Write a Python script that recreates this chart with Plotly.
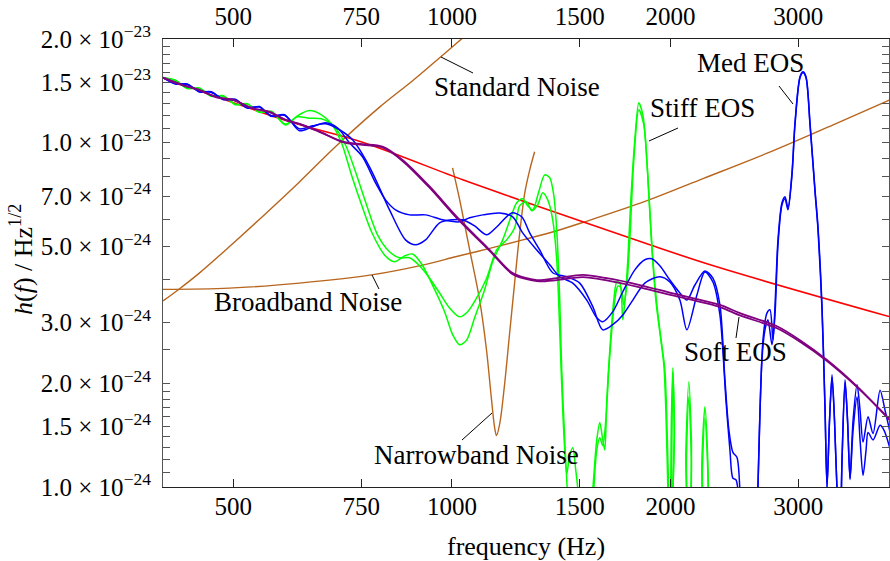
import math
import plotly.graph_objects as go

# ---------------- data (frequency in Hz, strain in 1/sqrt(Hz)) ----------------
red_f = [400, 597, 753, 1035, 1240, 1873, 2340, 4014]
red_h = [1.544e-23, 1.152e-23, 1.003e-23, 7.80e-24, 6.82e-24, 5.05e-24, 4.33e-24, 3.12e-24]

soft_f = [400, 425.2, 448.8, 473.7, 500, 529.4, 560.5, 591.6, 622.4, 663.3, 706.7, 753.1, 802.5,
          855.1, 931.6, 1015, 1127.2, 1212.6, 1308.6, 1394.4, 1514.4, 1634.3, 1814.9, 2015.4,
          2339.7, 2493.1, 2803.9, 3016.2, 3286.2, 3614.6, 4013.8]
soft1_h = [1.544e-23, 1.468e-23, 1.424e-23, 1.354e-23, 1.332e-23, 1.259e-23, 1.229e-23, 1.161e-23,
           1.127e-23, 1.065e-23, 1.0075e-23, 9.90e-24, 9.74e-24, 8.91e-24, 7.46e-24, 6.10e-24,
           4.88e-24, 4.18e-24, 3.99e-24, 4.04e-24, 4.13e-24, 4.04e-24, 3.86e-24, 3.65e-24,
           3.38e-24, 3.20e-24, 2.93e-24, 2.67e-24, 2.34e-24, 1.96e-24, 1.56e-24]
soft2_h = [1.544e-23, 1.472e-23, 1.421e-23, 1.357e-23, 1.329e-23, 1.262e-23, 1.226e-23, 1.164e-23,
           1.124e-23, 1.068e-23, 1.004e-23, 9.85e-24, 9.68e-24, 8.85e-24, 7.40e-24, 6.05e-24,
           4.85e-24, 4.15e-24, 3.96e-24, 3.99e-24, 4.07e-24, 3.98e-24, 3.80e-24, 3.60e-24,
           3.33e-24, 3.15e-24, 2.89e-24, 2.64e-24, 2.32e-24, 1.95e-24, 1.57e-24]

stiff1_f = [400, 415.8, 432.0, 448.8, 466.3, 484.4, 503.1, 522.7, 543.0, 564.1, 589.8, 612.6, 636.4,
            661.2, 682.5, 704.5, 727.2, 750.8, 774.9, 807.6, 833.6, 860.5, 882.7, 908.2, 937.5,
            977.1, 1002.2, 1024.7, 1047.7, 1074.7, 1109.4, 1138.0, 1174.7, 1208.8, 1228.1, 1251.7,
            1271.7, 1292.1, 1316.9, 1342.3, 1363.8, 1381.2, 1394.4, 1407.7, 1416.7, 1430.3, 1439.4,
            1453.2, 1524.0, 1563.2, 1583.2, 1598.4, 1613.7, 1624.0, 1634.3, 1650.0, 1671.1, 1687.1,
            1703.2, 1719.5, 1736.0, 1747.1, 1763.8, 1786.3, 1809.1, 1832.2, 1849.8, 1867.5, 1885.3,
            1909.5, 1933.9, 1958.6, 1971.0, 1983.7, 1996.3, 2005.8, 2015.4, 2025.0, 2034.6, 2087.0,
            2100.3, 2120.4, 2137.3, 2154.4, 2195.8, 2209.8, 2230.9, 2248.7, 2266.6]
stiff1_h = [1.544e-23, 1.520e-23, 1.436e-23, 1.442e-23, 1.363e-23, 1.369e-23, 1.289e-23, 1.298e-23,
            1.224e-23, 1.233e-23, 1.125e-23, 1.197e-23, 1.240e-23, 1.205e-23, 1.135e-23, 9.99e-24,
            8.06e-24, 6.60e-24, 5.51e-24, 4.72e-24, 4.51e-24, 4.69e-24, 4.75e-24, 4.45e-24, 3.91e-24,
            3.23e-24, 2.77e-24, 2.59e-24, 2.67e-24, 3.10e-24, 3.74e-24, 4.51e-24, 5.22e-24, 6.17e-24,
            6.69e-24, 6.87e-24, 6.56e-24, 6.38e-24, 7.19e-24, 8.06e-24, 7.91e-24, 7.05e-24, 5.58e-24,
            3.49e-24, 2.19e-24, 1.37e-24, 1.05e-24, 7.5e-25, 5e-25, 9.8e-25, 1.37e-24, 1.54e-24,
            1.37e-24, 1.28e-24, 1.79e-24, 2.50e-24, 3.49e-24, 3.94e-24, 3.92e-24, 3.06e-24, 3.74e-24,
            4.57e-24, 6.82e-24, 1.019e-23, 1.305e-23, 1.205e-23, 9.86e-24, 7.05e-24, 4.98e-24,
            3.49e-24, 2.81e-24, 2.26e-24, 1.67e-24, 9.8e-25, 5e-25, 1.56e-24, 2.22e-24, 1.56e-24,
            5e-25, 5e-25, 1.28e-24, 2.02e-24, 1.37e-24, 5e-25, 5e-25, 1.20e-24, 1.71e-24, 1.28e-24,
            5e-25]

stiff2_f = [400, 415.8, 432.0, 448.8, 466.3, 484.4, 503.1, 522.7, 543.0, 564.1, 589.8, 612.6, 636.4,
            661.2, 689.0, 713.5, 736.5, 762.7, 789.9, 820.5, 846.9, 874.3, 902.5, 931.6, 961.7,
            992.7, 1024.7, 1051.1, 1081.5, 1116.5, 1152.5, 1189.7, 1220.3, 1239.8, 1267.7, 1288.0,
            1312.7, 1333.8, 1355.2, 1376.8, 1394.4, 1407.7, 1421.2, 1439.4, 1453.2, 1467.1, 1481.1,
            1495.2, 1509.6, 1548.4, 1568.2, 1583.2, 1598.4, 1613.7, 1629.2, 1644.8, 1660.5, 1676.4,
            1692.4, 1708.6, 1725.0, 1741.5, 1758.2, 1780.6, 1809.1, 1838.1, 1855.6, 1873.4, 1891.4,
            1915.5, 1940.1, 1964.8, 1977.3, 1990.0, 2002.6, 2009.0, 2015.4, 2025.0, 2034.6, 2093.6,
            2103.6, 2120.4, 2137.3, 2154.4, 2202.8, 2213.3, 2230.9, 2248.7, 2266.6]
stiff2_h = [1.544e-23, 1.515e-23, 1.440e-23, 1.437e-23, 1.368e-23, 1.364e-23, 1.293e-23, 1.294e-23,
            1.228e-23, 1.229e-23, 1.131e-23, 1.189e-23, 1.178e-23, 1.173e-23, 1.112e-23, 9.86e-24,
            8.23e-24, 6.60e-24, 5.40e-24, 4.82e-24, 4.63e-24, 4.63e-24, 4.39e-24, 4.04e-24, 3.66e-24,
            3.31e-24, 3.12e-24, 3.23e-24, 3.54e-24, 4.04e-24, 4.88e-24, 5.22e-24, 5.66e-24, 6.56e-24,
            6.73e-24, 6.34e-24, 6.60e-24, 7.15e-24, 6.82e-24, 5.97e-24, 4.57e-24, 2.86e-24, 1.67e-24,
            1.09e-24, 1.24e-24, 1.30e-24, 1.12e-24, 9.2e-25, 5e-25, 5e-25, 9.8e-25, 1.28e-24,
            1.39e-24, 1.32e-24, 1.56e-24, 2.19e-24, 2.86e-24, 3.49e-24, 3.83e-24, 3.79e-24, 3.38e-24,
            3.86e-24, 5.22e-24, 8.91e-24, 1.246e-23, 1.127e-23, 8.91e-24, 6.38e-24, 4.57e-24,
            3.38e-24, 2.71e-24, 2.19e-24, 1.56e-24, 9.2e-25, 5e-25, 1.37e-24, 2.16e-24, 1.46e-24,
            5e-25, 5e-25, 1.20e-24, 1.83e-24, 1.20e-24, 5e-25, 5e-25, 1.12e-24, 1.58e-24, 1.20e-24,
            5e-25]

med1_f = [400, 415.8, 432.0, 448.8, 466.3, 484.4, 503.1, 522.7, 543.0, 564.1,
          587.9, 616.5, 642.5, 669.6, 695.6, 722.6, 753.1, 784.9, 810.2, 836.3,
          874.3, 919.8, 970.9, 1024.7, 1057.8, 1102.4, 1163.5, 1212.6, 1251.7, 1308.6,
          1363.8, 1407.7, 1467.1, 1533.7, 1583.2, 1613.7, 1665.8, 1719.5, 1786.3, 1843.9,
          1885.3, 1933.9, 1996.3, 2060.7, 2106.9, 2161.2, 2230.9, 2288.3, 2339.7, 2377.2,
          2407.5, 2438.3, 2469.4, 2493.1, 2533.0, 2614.7, 2639.7, 2681.9, 2716.2, 2742.2,
          2768.4, 2786.1, 2812.8, 2848.7, 2876.0, 2903.5, 2940.6, 2968.7, 3016.2, 3045.1,
          3074.2, 3113.5, 3163.3, 3193.6, 3234.4, 3265.4, 3286.2, 3312.3, 3338.7, 3365.3,
          3392.2, 3424.6, 3446.4, 3479.4, 3507.1, 3535.1, 3569.0, 3614.6, 3649.2, 3684.0,
          3743.0, 3802.9, 3888.3, 3950.5, 4013.8]
med1_h = [1.544e-23, 1.480e-23, 1.481e-23, 1.404e-23, 1.405e-23, 1.333e-23, 1.337e-23, 1.260e-23, 1.273e-23, 1.192e-23,
          1.206e-23, 1.083e-23, 1.112e-23, 1.142e-23, 1.105e-23, 9.99e-24, 9.10e-24, 7.64e-24, 6.82e-24, 6.38e-24,
          6.17e-24, 6.17e-24, 5.97e-24, 5.89e-24, 6.05e-24, 6.17e-24, 6.25e-24, 6.09e-24, 5.47e-24, 4.88e-24,
          4.42e-24, 4.08e-24, 3.91e-24, 3.49e-24, 3.10e-24, 3.02e-24, 3.23e-24, 3.69e-24, 4.27e-24, 4.57e-24,
          4.60e-24, 4.39e-24, 3.99e-24, 3.66e-24, 3.49e-24, 3.86e-24, 4.24e-24, 4.04e-24, 3.38e-24, 2.05e-24,
          1.46e-24, 1.26e-24, 1.22e-24, 9.8e-25, 5e-25, 5e-25, 1.0e-24, 2.67e-24, 3.20e-24, 3.27e-24,
          2.67e-24, 3.34e-24, 5.22e-24, 6.69e-24, 6.96e-24, 6.47e-24, 8.17e-24, 1.142e-23, 1.554e-23, 1.606e-23,
          1.554e-23, 1.142e-23, 7.29e-24, 5.69e-24, 3.34e-24, 1.71e-24, 1.0e-24, 1.56e-24, 2.12e-24, 1.56e-24,
          9.8e-25, 7.0e-25, 1.20e-24, 2.05e-24, 1.56e-24, 1.06e-24, 1.56e-24, 1.98e-24, 1.67e-24, 1.35e-24,
          1.60e-24, 1.43e-24, 1.91e-24, 1.67e-24, 1.44e-24]

med2_f = [400, 415.8, 432.0, 448.8, 466.3, 484.4, 503.1, 522.7, 543.0, 564.1,
          587.9, 616.5, 642.5, 669.6, 700.0, 729.6, 770.0, 820.5, 863.2, 891.1,
          919.8, 961.7, 1002.2, 1034.5, 1074.7, 1116.5, 1152.5, 1208.8, 1247.7, 1279.8,
          1321.1, 1376.8, 1439.4, 1500.0, 1563.2, 1613.7, 1665.8, 1719.5, 1775.0, 1843.9,
          1933.9, 1996.3, 2060.7, 2106.9, 2175.0, 2230.9, 2288.3, 2339.7, 2384.8, 2415.2,
          2438.3, 2461.6, 2485.2, 2525.0, 2623.0, 2639.7, 2673.4, 2699.0, 2724.9, 2759.7,
          2786.1, 2812.8, 2848.7, 2876.0, 2903.5, 2940.6, 2968.7, 3016.2, 3045.1, 3074.2,
          3113.5, 3163.3, 3193.6, 3234.4, 3265.4, 3286.2, 3312.3, 3338.7, 3365.3, 3392.2,
          3424.6, 3446.4, 3479.4, 3507.1, 3535.1, 3569.0, 3614.6, 3649.2, 3684.0, 3719.3,
          3743.0, 3802.9, 3888.3, 3938.0, 4013.8]
med2_h = [1.544e-23, 1.487e-23, 1.475e-23, 1.410e-23, 1.399e-23, 1.338e-23, 1.332e-23, 1.265e-23, 1.268e-23, 1.197e-23,
          1.201e-23, 1.097e-23, 1.119e-23, 1.135e-23, 1.090e-23, 1.019e-23, 8.51e-24, 6.38e-24, 5.22e-24, 5.05e-24,
          5.22e-24, 5.85e-24, 5.97e-24, 5.97e-24, 5.73e-24, 5.40e-24, 5.69e-24, 6.25e-24, 6.09e-24, 5.47e-24,
          4.88e-24, 4.19e-24, 4.08e-24, 3.91e-24, 3.34e-24, 2.86e-24, 2.96e-24, 3.16e-24, 3.49e-24, 3.91e-24,
          4.08e-24, 3.94e-24, 3.49e-24, 2.86e-24, 3.61e-24, 4.21e-24, 3.94e-24, 3.16e-24, 1.79e-24, 1.28e-24,
          1.06e-24, 1.05e-24, 9.2e-25, 5e-25, 5e-25, 1.0e-24, 2.34e-24, 2.86e-24, 3.06e-24, 2.59e-24,
          3.16e-24, 5.05e-24, 6.60e-24, 6.87e-24, 6.38e-24, 8.06e-24, 1.127e-23, 1.544e-23, 1.596e-23, 1.544e-23,
          1.127e-23, 7.19e-24, 5.58e-24, 3.27e-24, 1.67e-24, 1.0e-24, 1.56e-24, 2.08e-24, 1.56e-24, 9.8e-25,
          7.0e-25, 1.20e-24, 2.01e-24, 1.56e-24, 1.05e-24, 1.46e-24, 1.83e-24, 1.37e-24, 1.08e-24, 1.28e-24,
          1.44e-24, 1.37e-24, 1.51e-24, 1.46e-24, 1.29e-24]

std_noise_f = [400, 421.2, 448.8, 498.4, 555.2, 616.6, 691.1, 795, 882.8, 962, 1047.8, 1092]
std_noise_h = [3.47e-24, 3.76e-24, 4.18e-24, 5.08e-24, 6.25e-24, 7.69e-24, 9.73e-24, 1.268e-23,
               1.513e-23, 1.765e-23, 2.06e-23, 2.22e-23]

broad_noise_f = [400, 493.7, 616.6, 774.9, 911.2, 1015, 1127, 1252, 1394, 1524, 1845, 2196, 2718, 3351, 4014]
broad_noise_h = [3.75e-24, 3.78e-24, 3.91e-24, 4.13e-24, 4.41e-24, 4.67e-24, 4.93e-24, 5.22e-24, 5.55e-24,
                 5.89e-24, 6.75e-24, 7.80e-24, 9.32e-24, 1.127e-23, 1.332e-23]

narrow_noise_f = [1002, 1025, 1058, 1092, 1116, 1134, 1145, 1152, 1164, 1182, 1201, 1220, 1240, 1260, 1280, 1300]
narrow_noise_h = [8.45e-24, 6.82e-24, 4.88e-24, 3.49e-24, 2.50e-24, 1.79e-24, 1.49e-24, 1.41e-24, 1.53e-24,
                  1.99e-24, 2.80e-24, 3.91e-24, 5.47e-24, 7.15e-24, 8.34e-24, 9.41e-24]

x_tick_vals = [500, 750, 1000, 1500, 2000, 3000]
y_tick_vals = [1e-24, 1.5e-24, 2e-24, 3e-24, 5e-24, 7e-24, 1e-23, 1.5e-23, 2e-23]
y_tick_text = ["1.0 × 10<sup>−24</sup>", "1.5 × 10<sup>−24</sup>", "2.0 × 10<sup>−24</sup>",
               "3.0 × 10<sup>−24</sup>", "5.0 × 10<sup>−24</sup>", "7.0 × 10<sup>−24</sup>",
               "1.0 × 10<sup>−23</sup>", "1.5 × 10<sup>−23</sup>", "2.0 × 10<sup>−23</sup>"]
y_minor_vals = [1.1e-24, 1.2e-24, 1.3e-24, 1.4e-24, 1.6e-24, 1.7e-24, 1.8e-24, 1.9e-24, 2.5e-24,
                4e-24, 6e-24, 8e-24, 9e-24, 1.1e-23, 1.2e-23, 1.3e-23, 1.4e-23, 1.6e-23, 1.7e-23,
                1.8e-23, 1.9e-23]

labels = ["Standard Noise", "Broadband Noise", "Narrowband Noise", "Stiff EOS", "Med EOS", "Soft EOS"]

for a, b in [(stiff1_f, stiff1_h), (stiff2_f, stiff2_h), (med1_f, med1_h), (med2_f, med2_h),
             (soft_f, soft1_h), (soft_f, soft2_h), (std_noise_f, std_noise_h),
             (broad_noise_f, broad_noise_h), (narrow_noise_f, narrow_noise_h), (red_f, red_h)]:
    assert len(a) == len(b), (len(a), len(b))

# ---------------- figure ----------------
FONT = "Liberation Serif, Times New Roman, serif"
BROWN = "#B8651D"
RED = "#FF0000"
GREEN = "#00FF00"
BLUE = "#0000FF"
PURPLE = "#800080"

fig = go.Figure()


def add(f, h, color, width, smoothing=0.8):
    fig.add_trace(go.Scatter(x=f, y=h, mode="lines", showlegend=False, hoverinfo="skip",
                             line=dict(color=color, width=width, shape="spline", smoothing=smoothing)))


add(std_noise_f, std_noise_h, BROWN, 1.4, 1.0)
add(broad_noise_f, broad_noise_h, BROWN, 1.4, 1.0)
add(narrow_noise_f, narrow_noise_h, BROWN, 1.4, 0.9)
add(red_f, red_h, RED, 1.6, 1.0)
add(stiff1_f, stiff1_h, GREEN, 1.5)
add(stiff2_f, stiff2_h, GREEN, 1.5)
add(med1_f, med1_h, BLUE, 1.5)
add(med2_f, med2_h, BLUE, 1.5)
add(soft_f, soft1_h, PURPLE, 1.8)
add(soft_f, soft2_h, PURPLE, 1.8)

# invisible trace so that the top axis is drawn
fig.add_trace(go.Scatter(x=[x_tick_vals[0], x_tick_vals[-1]], y=[None, None], xaxis="x2",
                         mode="lines", showlegend=False, hoverinfo="skip"))

# plot area: left 163, top 39, width 726, height 448 (page body margin removed below)
ML, MT, MR, MB = 163, 39, 1, 74
FIG_W, FIG_H = 890, 561
X0, XW, Y0, YH = 163, 726, 487, 448


def px(x):
    return (x - X0) / XW


def py(y):
    return (Y0 - y) / YH


xrange_ = [math.log10(400), math.log10(4000)]
axis_common = dict(type="log", range=xrange_, tickmode="array", tickvals=x_tick_vals,
                   ticktext=[str(v) for v in x_tick_vals], ticks="inside", ticklen=8,
                   tickcolor="#222", tickwidth=1, showline=True, linecolor="#222", linewidth=1,
                   showgrid=False, zeroline=False, tickfont=dict(size=25, family=FONT, color="black"))

fig.update_layout(
    width=FIG_W, height=FIG_H,
    margin=dict(l=ML, r=MR, t=MT, b=MB, autoexpand=False),
    plot_bgcolor="white", paper_bgcolor="white",
    font=dict(family=FONT, size=25, color="black"),
    showlegend=False,
    xaxis=dict(**axis_common, ticklabelstandoff=-3),
    xaxis2=dict(**axis_common, overlaying="x", side="top", ticklabelstandoff=3),
    yaxis=dict(type="log", range=[-24, math.log10(2e-23)], tickmode="array", tickvals=y_tick_vals,
               ticktext=y_tick_text, ticks="inside", ticklen=7, tickcolor="#555", tickwidth=1,
               showline=True, linecolor="#555", linewidth=1, mirror="allticks", showgrid=False,
               zeroline=False, ticklabelstandoff=6,
               tickfont=dict(size=25, family=FONT, color="black"),
               minor=dict(tickmode="array", tickvals=y_minor_vals, ticks="inside", ticklen=4,
                          tickcolor="#555", showgrid=False)),
)

# labels with leader lines
label_pos = [(517, 87), (308, 302), (476, 455), (702, 108), (750, 63), (735, 352)]
leaders = [((441, 57), (473, 73)), ((372, 275), (379, 289)), ((492, 413), (462, 440)),
           ((649, 141), (678, 128)), ((779, 86), (793, 104)), ((739, 317), (736, 338))]
for text, (tx, ty) in zip(labels, label_pos):
    fig.add_annotation(text=text, x=px(tx), y=py(ty), xref="paper", yref="paper",
                       showarrow=False, xanchor="center", yanchor="middle",
                       font=dict(size=27, family=FONT, color="black"))
for (x0, y0), (x1, y1) in leaders:
    fig.add_shape(type="line", xref="paper", yref="paper", x0=px(x0), y0=py(y0), x1=px(x1), y1=py(y1),
                  line=dict(color="black", width=1))

fig.add_annotation(text="frequency (Hz)", x=px(526), y=py(546), xref="paper", yref="paper",
                   showarrow=False, xanchor="center", yanchor="middle",
                   font=dict(size=26, family=FONT, color="black"))
fig.add_annotation(text="<i>h</i>(<i>f</i>) / Hz<sup>1/2</sup>", x=px(21), y=py(260), xref="paper",
                   yref="paper", showarrow=False, xanchor="center", yanchor="middle", textangle=-90,
                   font=dict(size=26, family=FONT, color="black"))

fig.write_html(
    "out.html",
    config={"displayModeBar": False},
    post_script="document.body.style.margin='0px';document.documentElement.style.overflow='hidden';",
)
